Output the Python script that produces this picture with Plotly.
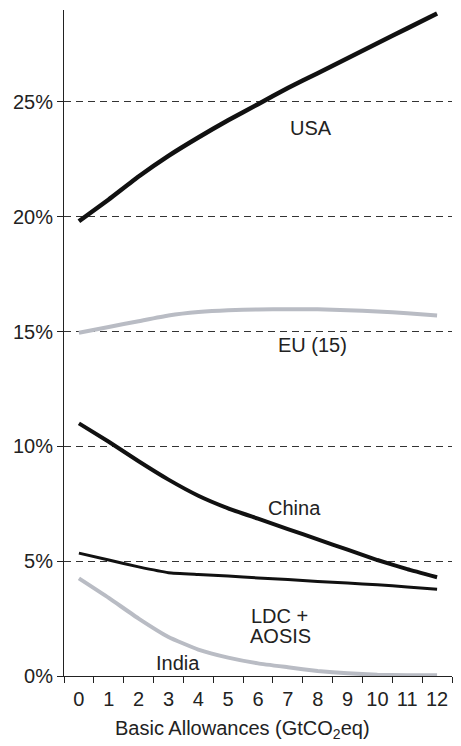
import plotly.graph_objects as go

allowances = [str(i) for i in range(13)]
usa = [19.8, 20.75, 21.75, 22.65, 23.45, 24.2, 24.9, 25.6, 26.25, 26.9, 27.55, 28.2, 28.85]
eu15 = [14.95, 15.2, 15.45, 15.7, 15.85, 15.93, 15.96, 15.97, 15.97, 15.93, 15.87, 15.8, 15.7]
china = [11.0, 10.2, 9.35, 8.55, 7.85, 7.3, 6.85, 6.4, 5.95, 5.5, 5.05, 4.65, 4.3]
ldc_aosis = [5.35, 5.05, 4.75, 4.5, 4.42, 4.35, 4.27, 4.2, 4.12, 4.05, 3.97, 3.88, 3.78]
india = [4.25, 3.4, 2.5, 1.7, 1.15, 0.8, 0.55, 0.38, 0.22, 0.12, 0.05, 0.03, 0.03]
y_ticks = [0, 5, 10, 15, 20, 25]
y_ticklabels = ["0%", "5%", "10%", "15%", "20%", "25%"]

BLACK = "#111111"
GREY = "#b9bcc4"
FONT = "Liberation Sans, Arial, sans-serif"

fig = go.Figure()
series = [
    (eu15, GREY, 4),
    (india, GREY, 4),
    (usa, BLACK, 4.5),
    (china, BLACK, 4),
    (ldc_aosis, BLACK, 3),
]
for vals, col, w in series:
    fig.add_trace(go.Scatter(x=allowances, y=vals, mode="lines",
                             line=dict(color=col, width=w, shape="spline", smoothing=0.4),
                             showlegend=False, hoverinfo="skip"))

labels = [
    ("USA", 7.79, 23.86),
    ("EU (15)", 7.83, 14.41),
    ("China", 7.21, 7.31),
    ("LDC +", 6.72, 2.6),
    ("AOSIS", 6.76, 1.73),
    ("India", 3.31, 0.56),
]
for txt, x, y in labels:
    fig.add_annotation(x=x, y=y, xref="x", yref="y", text=txt, showarrow=False,
                       font=dict(size=20, color="#222222", family=FONT),
                       xanchor="center", yanchor="middle")

fig.add_annotation(x=0.461, y=-0.081, xref="paper", yref="paper",
                   text="Basic Allowances (GtCO<sub>2</sub>eq)", showarrow=False,
                   font=dict(size=20, color="#222222", family=FONT),
                   xanchor="center", yanchor="middle")

fig.update_layout(
    width=461, height=746,
    margin=dict(l=64, r=9, t=10, b=70),
    paper_bgcolor="white", plot_bgcolor="white",
    font=dict(family=FONT, size=20, color="#222222"),
    xaxis=dict(type="category", categoryorder="array", categoryarray=allowances,
               range=[-0.5, 12.5], tickson="boundaries", ticks="outside", ticklen=6,
               tickcolor="#222222", showline=True, linecolor="#222222", linewidth=1,
               showgrid=False, zeroline=False, tickangle=0, ticklabelstandoff=5,
               tickfont=dict(size=20)),
    yaxis=dict(range=[0, 29], tickmode="array", tickvals=y_ticks, ticktext=y_ticklabels,
               ticks="outside", ticklen=6, tickcolor="#222222", showline=True,
               linecolor="#222222", linewidth=1, showgrid=True, gridcolor="#333333",
               gridwidth=1, griddash="7px,5px", zeroline=False, tickfont=dict(size=20)),
)

fig.write_html("out.html")
